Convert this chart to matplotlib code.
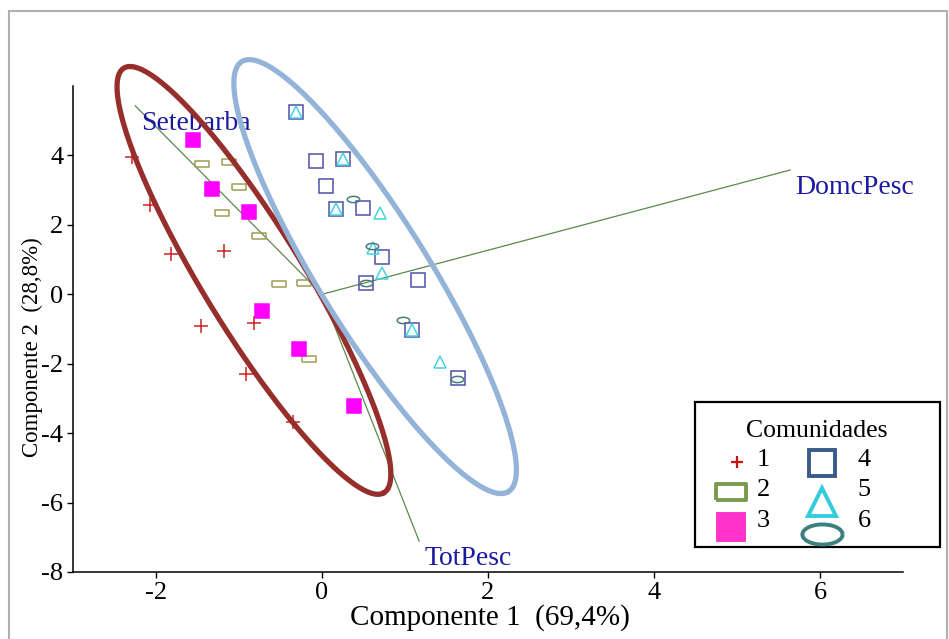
import numpy as np
import matplotlib
matplotlib.use('Agg')
from matplotlib import pyplot as plt
from matplotlib.lines import Line2D
from matplotlib.patches import Rectangle

plt.rcParams['font.family'] = ['Liberation Serif', 'DejaVu Serif']
plt.rcParams['axes.unicode_minus'] = False

# PCA scores per community (Componente 1, Componente 2)
c1_x = [-2.29, -2.07, -1.82, -1.18, -1.46, -0.82, -0.91, -0.35]
c1_y = [3.96, 2.57, 1.16, 1.24, -0.92, -0.84, -2.31, -3.67]
c2_x = [-1.44, -1.12, -1.00, -1.20, -0.76, -0.52, -0.22, -0.16]
c2_y = [3.76, 3.82, 3.09, 2.34, 1.68, 0.29, 0.32, -1.85]
c3_x = [-1.56, -1.32, -0.88, -0.72, -0.28, 0.39]
c3_y = [4.45, 3.03, 2.37, -0.49, -1.57, -3.21]
c4_x = [-0.31, -0.07, 0.25, 0.05, 0.17, 0.49, 0.72, 0.53, 1.16, 1.08, 1.64]
c4_y = [5.25, 3.84, 3.89, 3.12, 2.45, 2.48, 1.07, 0.32, 0.40, -1.02, -2.41]
c5_x = [-0.31, 0.25, 0.17, 0.70, 0.62, 0.72, 1.08, 1.42]
c5_y = [5.26, 3.90, 2.45, 2.33, 1.34, 0.61, -1.04, -1.95]
c6_x = [0.37, 0.60, 0.97, 0.53, 1.63]
c6_y = [2.75, 1.39, -0.75, 0.32, -2.43]

comunidades = ['1', '2', '3', '4', '5', '6']
scores_x = [c1_x, c2_x, c3_x, c4_x, c5_x, c6_x]
scores_y = [c1_y, c2_y, c3_y, c4_y, c5_y, c6_y]

# loadings (variable vectors)
var_names = ['Setebarba', 'DomcPesc', 'TotPesc']
var_x = [-2.25, 5.64, 1.17]
var_y = [5.43, 3.58, -7.11]

# custom marker shapes
t = np.linspace(0, 2 * np.pi, 40)
rect_marker = [(-1, -0.5), (1, -0.5), (1, 0.5), (-1, 0.5), (-1, -0.5)]
oval_marker = list(zip(np.cos(t), 0.5 * np.sin(t)))

markers = ['+', rect_marker, 's', 's', '^', oval_marker]
colors = ['#cc2222', '#9c9c52', '#ff00ff', '#5050a8', '#44d4e0', '#4a7a7a']
legend_colors = ['#cc1111', '#7a9a50', '#ff33cc', '#3a5a8a', '#33ccdd', '#3d8080']
filled = [False, False, True, False, False, False]
sizes = [10, 10, 9.5, 9.5, 9, 9]
legend_sizes = [9, 22, 19, 19, 20, 29]

W, H = 949, 639
fig = plt.figure(figsize=(W / 100, H / 100), dpi=100)
ax = fig.add_axes([73 / W, 67 / H, 830 / W, 486 / H])

for xs, ys, m, c, f, s in zip(scores_x, scores_y, markers, colors, filled, sizes):
    ax.plot(xs, ys, ls='', marker=m, ms=s, mew=1.1, mec=c,
            mfc=c if f else 'none', zorder=3)

for name, vx, vy in zip(var_names, var_x, var_y):
    ax.plot([0, vx], [0, vy], color='#5a8a4a', lw=0.9, zorder=2)
    ax.annotate(name, (vx, vy), xytext=(4, -17.5), textcoords='offset points',
                ha='left', va='baseline', color='#1a1aa0', fontsize=20)

ax.set_xlim(-3, 7)
ax.set_ylim(-8, 6)

# hand-drawn grouping ellipses: centre (data), semi-axes in px, tilt in degrees
sx = 830 / 10
sy = 486 / 14
ell_centres = [(-0.82, 0.40), (0.64, 0.51)]
ell_axes = [(249, 50), (253, 55)]
ell_tilt = [58.5, 58.2]
ell_colors = ['#962f2c', '#93b3d9']
tt = np.linspace(0, 2 * np.pi, 300)
for (cx, cy), (a, b), th, c in zip(ell_centres, ell_axes, ell_tilt, ell_colors):
    th = np.radians(th)
    px = a * np.cos(tt) * np.cos(th) - b * np.sin(tt) * np.sin(th)
    py = a * np.cos(tt) * np.sin(th) + b * np.sin(tt) * np.cos(th)
    ax.plot(cx + px / sx, cy - py / sy, color=c, lw=3.8, zorder=4,
            solid_capstyle='round', clip_on=False)

ax.set_xticks([-2, 0, 2, 4, 6])
ax.set_yticks([-8, -6, -4, -2, 0, 2, 4])
ax.tick_params(direction='out', length=4, width=1, labelsize=19, pad=3)
for side in ['top', 'right']:
    ax.spines[side].set_visible(False)
for side in ['left', 'bottom']:
    ax.spines[side].set_linewidth(1.1)

fig.text(490 / W, 1 - 625 / H, 'Componente 1  (69,4%)', ha='center',
         va='baseline', fontsize=21)
fig.text(32 / W, 1 - 347 / H, 'Componente 2  (28,8%)', ha='center',
         va='center', rotation=90, fontsize=16.5)


def fx(p):
    return p / W


def fy(p):
    return 1 - p / H


# legend box (built by hand to mimic the pasted-in legend)
fig.add_artist(Rectangle((fx(695), fy(547)), fx(940) - fx(695), fy(402) - fy(547),
                         transform=fig.transFigure, fill=False, ec='black', lw=1.6))
fig.text(fx(817), fy(437), 'Comunidades', ha='center', va='baseline', fontsize=18.5)
mark_pos = [(737, 462), (731, 492), (731, 527), (822, 463), (822, 502), (822, 534)]
label_pos = [(763, 460), (763, 490), (763, 521), (864, 460), (864, 490), (864, 521)]
for lab, m, c, f, s, (mx, my), (lx, ly) in zip(comunidades, markers, legend_colors,
                                               filled, legend_sizes, mark_pos, label_pos):
    fig.add_artist(Line2D([fx(mx)], [fy(my)], transform=fig.transFigure, ls='',
                          marker=m, ms=s, mec=c, mfc=c if f else 'none',
                          mew=1.6 if m == '+' else 2.8))
    fig.text(fx(lx), fy(ly), lab, ha='center', va='center', fontsize=19)

# grey frame around the figure
fig.add_artist(Rectangle((fx(9), fy(660)), fx(947) - fx(9), fy(11) - fy(660),
                         transform=fig.transFigure, fill=False, ec='#b0b0b0', lw=1.5))

fig.savefig('out.png', dpi=100)
